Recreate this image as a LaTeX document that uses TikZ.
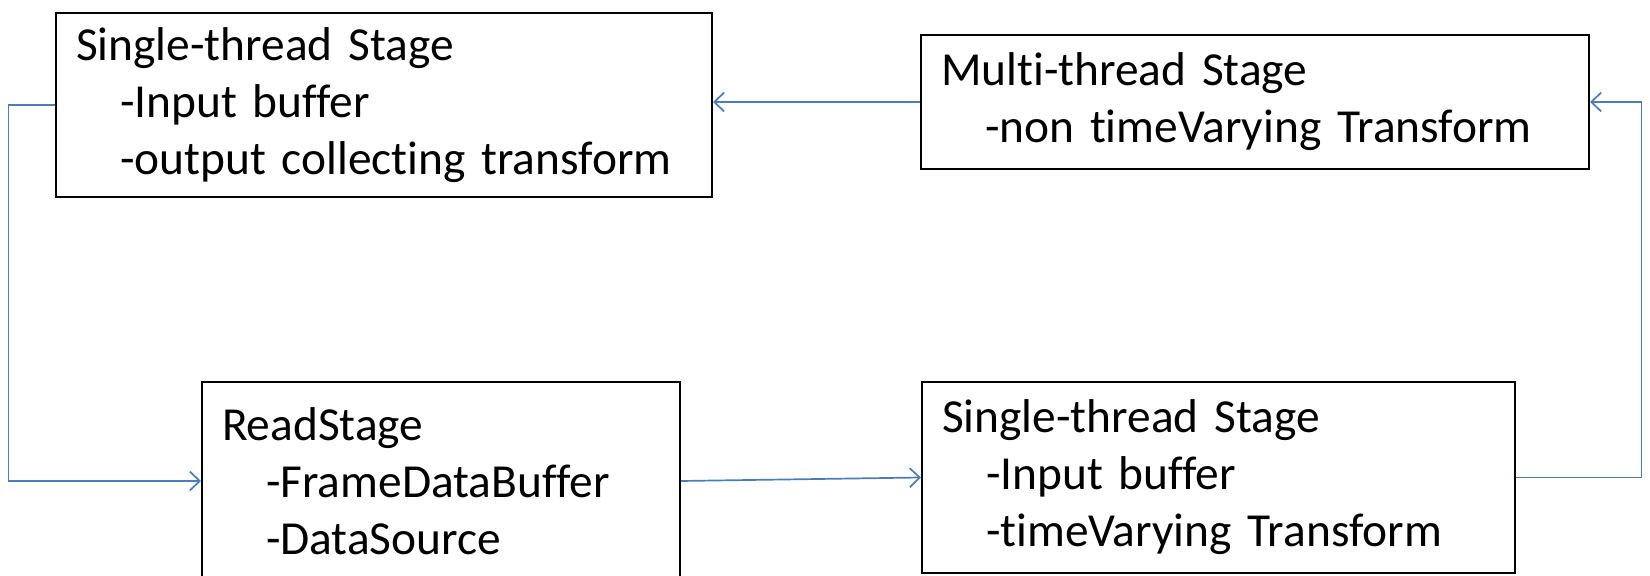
\documentclass[tikz,border=0pt]{standalone}
\usepackage{fontspec}
\setmainfont{Carlito}[Ligatures=NoCommon]
\usetikzlibrary{arrows.meta}

\definecolor{linkblue}{RGB}{74,126,187}
\newcommand{\stepin}{\hspace*{22pt}}

\tikzset{
  stage/.style={draw=black, line width=1pt, align=left, inner xsep=10pt, inner ysep=0pt,
    font=\fontsize{23.7}{28.5}\selectfont},
  link/.style={draw=linkblue, line width=0.85pt, -{Straight Barb[length=5pt,width=9.5pt]}},
}

\begin{document}
\begin{tikzpicture}[x=0.5pt,y=-0.5pt]

\useasboundingbox (0,0) rectangle (1650,576);

\coordinate (leftrail) at (8.4,0);
\coordinate (rightrail) at (1641.6,0);

\node[stage, text width=308pt, minimum height=92pt] (single1) at (384,105)
  {Single-thread Stage\\ \stepin-Input buffer\\ \stepin-output collecting transform};
\node[stage, text width=314pt, minimum height=67pt] (multi) at (1255,102)
  {Multi-thread Stage\\ \stepin-non timeVarying Transform};
\node[stage, text width=219pt, minimum height=99pt] (readstage) at (441,481)
  {ReadStage\\ \stepin-FrameDataBuffer\\ \stepin-DataSource};
\node[stage, text width=276.5pt, minimum height=95.5pt] (single2) at (1218.5,477.5)
  {Single-thread Stage\\ \stepin-Input buffer\\ \stepin-timeVarying Transform};

\draw[link] (single1.west) -- (single1.west -| leftrail) |- (readstage.west);
\draw[link] (readstage.east) -- (single2.west);
\draw[link] (single2.east) -- (single2.east -| rightrail) |- (multi.east);
\draw[link] (multi.west) -- (multi.west -| single1.east);

\end{tikzpicture}
\end{document}
